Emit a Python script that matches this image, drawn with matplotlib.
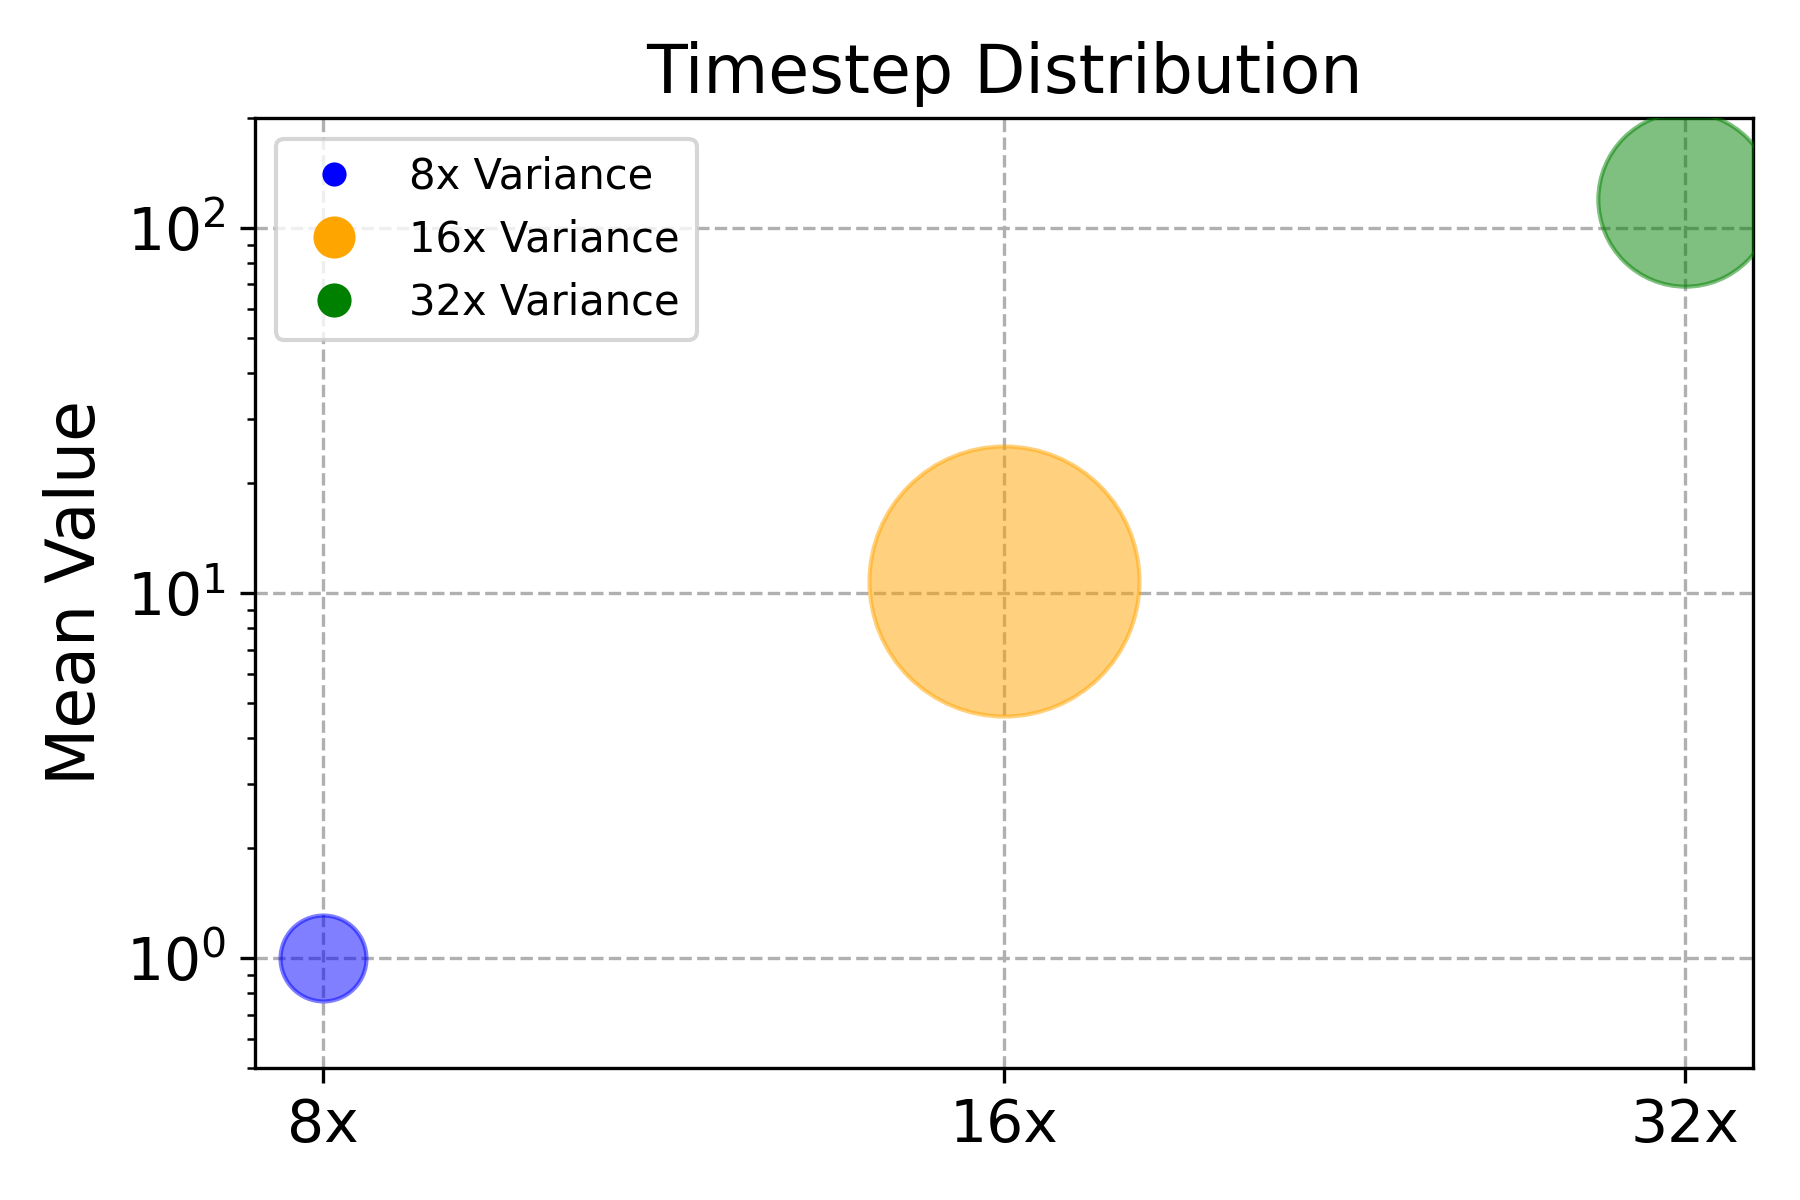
import matplotlib
matplotlib.use("Agg")
import matplotlib.pyplot as plt
from matplotlib.lines import Line2D

categories = ["8x", "16x", "32x"]
mean_values = [1.0, 10.8, 120.0]
bubble_sizes = [425, 4200, 1750]
colors = ["blue", "orange", "green"]
labels = ["8x Variance", "16x Variance", "32x Variance"]
legend_marker_sizes = [4.8, 9.1, 7.2]

fig, ax = plt.subplots(figsize=(6, 4), dpi=300)
x = list(range(len(categories)))
for xi, yi, s, c in zip(x, mean_values, bubble_sizes, colors):
    ax.scatter([xi], [yi], s=s, color=c, alpha=0.5, edgecolors=c, linewidths=1.0, zorder=3)

ax.set_yscale("log")
ax.set_ylim(0.5, 200)
ax.set_xlim(-0.1, 2.1)
ax.set_xticks(x)
ax.set_xticklabels(categories, fontsize=14)
ax.tick_params(axis="y", labelsize=14)
ax.set_ylabel("Mean Value", fontsize=16)
ax.set_title("Timestep Distribution", fontsize=16)
ax.grid(True, which="major", linestyle="--", color="#b0b0b0", linewidth=0.8)
ax.set_axisbelow(True)

handles = [Line2D([0], [0], marker="o", linestyle="none", color=c, markersize=ms)
           for c, ms in zip(colors, legend_marker_sizes)]
ax.legend(handles, labels, loc="upper left", fontsize=10)

fig.subplots_adjust(left=0.1417, right=0.974, top=0.9017, bottom=0.11)
fig.savefig("out.png", dpi=300)
